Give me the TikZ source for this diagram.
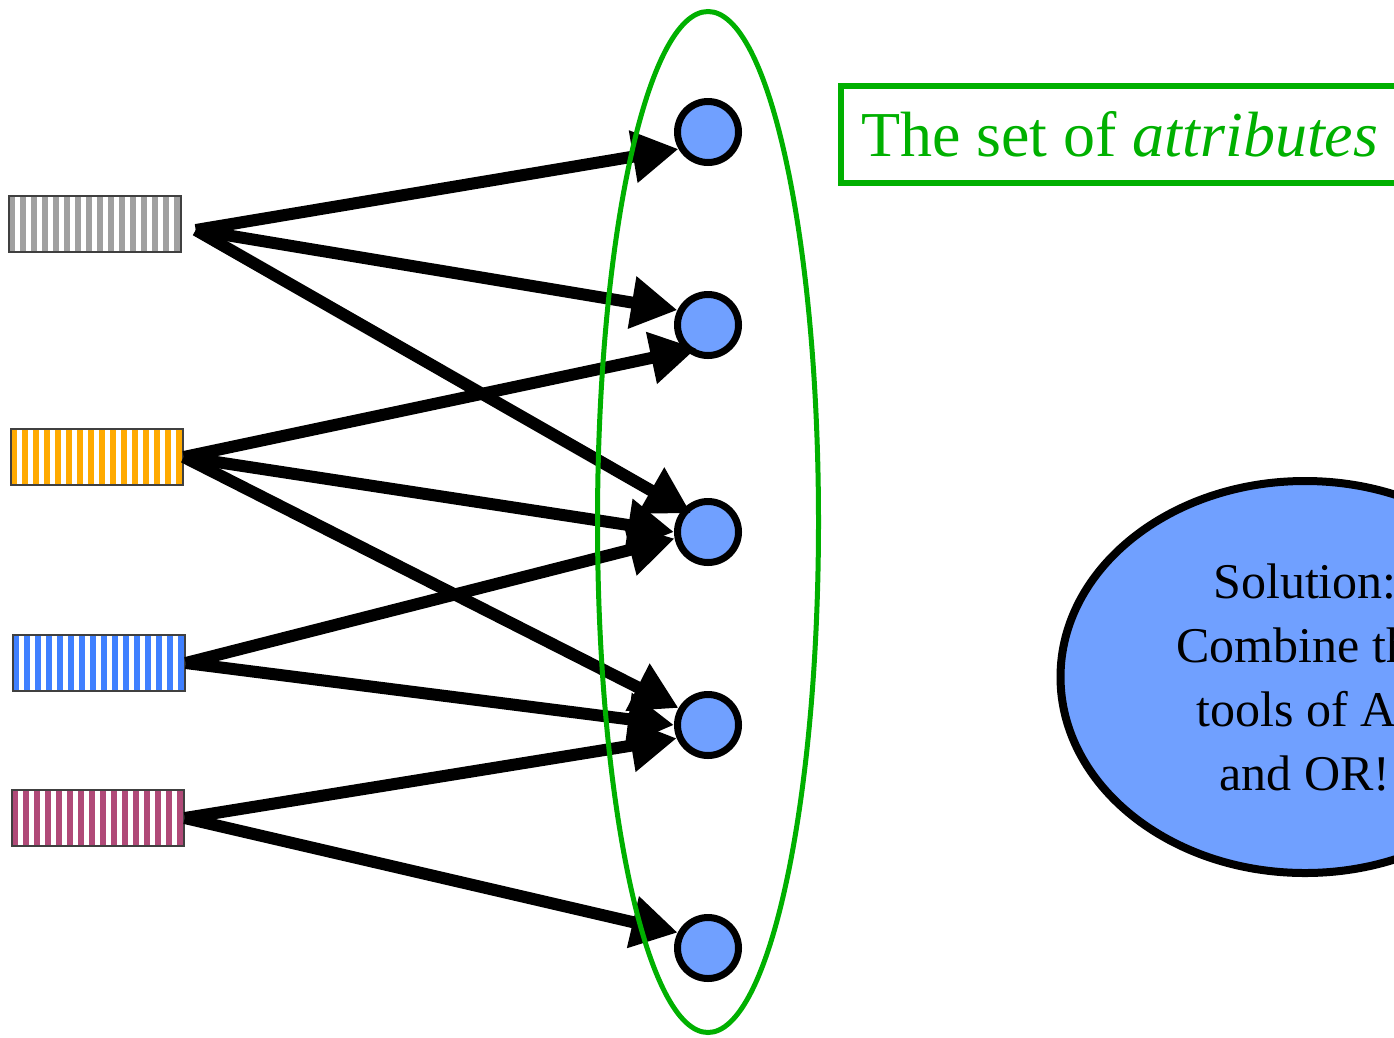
\documentclass[tikz,border=0pt]{standalone}
\usepackage{fontspec}
\setmainfont{Liberation Serif}
\usetikzlibrary{arrows.meta,shapes.geometric}
\definecolor{setGreen}{HTML}{00B000}
\definecolor{attrBlue}{HTML}{70A0FF}
\definecolor{stripeGray}{HTML}{A0A0A0}
\definecolor{stripeOrange}{HTML}{FFAA00}
\definecolor{stripeBlue}{HTML}{4080FF}
\definecolor{stripeRed}{HTML}{B04A78}

\begin{document}
\begin{tikzpicture}[x=1pt, y=-1pt,
        record/.style={rectangle, draw=black!75, line width=1.5pt, minimum width=172pt, minimum height=56pt, inner sep=0pt,
            path picture={\foreach \k in {0,...,15} {\fill[#1] ([xshift=\k*11pt]path picture bounding box.south west) rectangle ++(5.5pt,56pt);}}},
        attr/.style={circle, draw, line width=7pt, fill=attrBlue, minimum size=61pt, inner sep=0pt},
        link/.style={draw, line width=12pt, -{Triangle[length=46pt,width=50pt]}}
    ]
    \useasboundingbox (0,0) rectangle (1394,1037);
    \clip (0,0) rectangle (1394,1037);

    % records on the left
    \node (gray) at (95,224) [record=stripeGray] {};
    \node (orange) at (97,457) [record=stripeOrange] {};
    \node (blue) at (99,663) [record=stripeBlue] {};
    \node (red) at (98,818) [record=stripeRed] {};

    % attributes
    \node (a1) at (708,132) [attr] {};
    \node (a2) at (708,325) [attr] {};
    \node (a3) at (708,532) [attr] {};
    \node (a4) at (708,725) [attr] {};
    \node (a5) at (708,948) [attr] {};

    \draw [link] ([xshift=14pt,yshift=-6pt]gray.east) -- (a1.210);
    \draw [link] ([xshift=14pt,yshift=-6pt]gray.east) -- (a2.154);
    \draw [link, shorten >=-9pt] ([xshift=14pt,yshift=-6pt]gray.east) -- (a3.137);

    \draw [link, shorten >=-11pt] (orange.east) -- (a2.229);
    \draw [link] (orange.east) -- (a3.180);
    \draw [link] (orange.east) -- (a4.150);

    \draw [link] (blue.east) -- (a3.191);
    \draw [link] (blue.east) -- (a4.180);

    \draw [link] (red.east) -- (a4.203);
    \draw [link] (red.east) -- (a5.153);

    \node (attrset) at (708,522) [ellipse, draw=setGreen, line width=5pt, minimum width=221pt, minimum height=1021pt] {};

    \node (setlabel) at (838,134) [anchor=west, draw=setGreen, line width=6pt, text=setGreen, minimum height=97pt, inner xsep=20pt,
        font=\fontsize{64}{76}\selectfont] {The set of \textit{attributes}};

    \node (idea) at (1305,677) [ellipse, draw, line width=8pt, fill=attrBlue, minimum width=489pt, minimum height=392pt, inner sep=0pt,
        align=center, font=\fontsize{50}{64}\selectfont] {Solution:\\Combine the\\tools of AI\\and OR!};
\end{tikzpicture}
\end{document}
